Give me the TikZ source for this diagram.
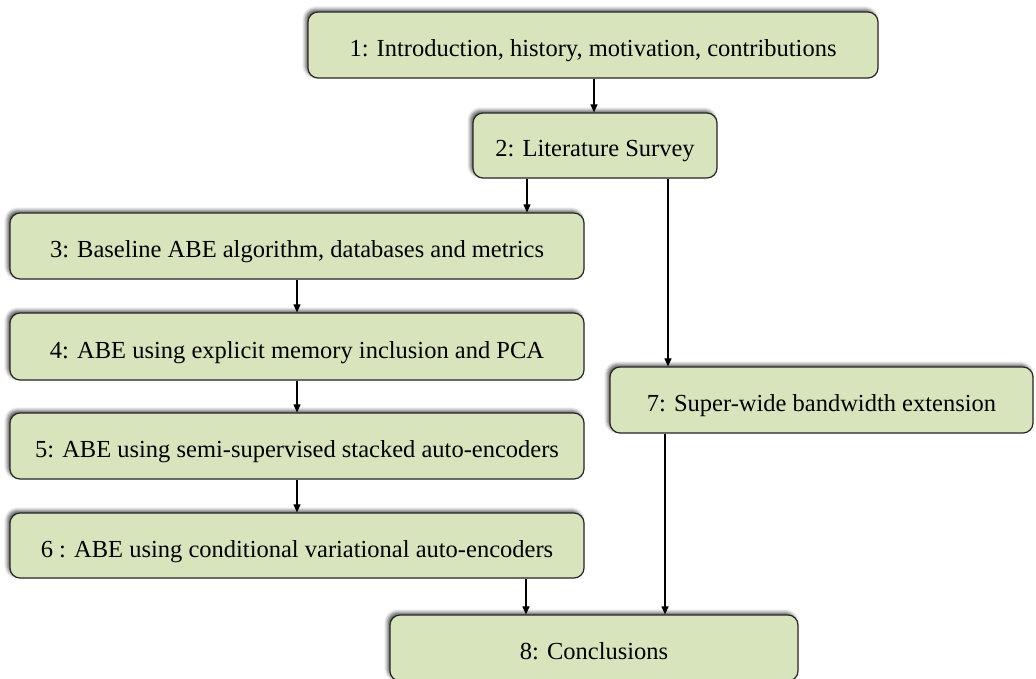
\documentclass[tikz,border=0pt]{standalone}
\usepackage{fontspec}
\setmainfont{Liberation Serif}
\usetikzlibrary{shadows.blur,arrows.meta}
\definecolor{boxfill}{HTML}{D8E4BC}
\begin{document}
\begin{tikzpicture}[x=1pt,y=-1pt,
  chapter/.style={draw=black!85, line width=1.2pt, fill=boxfill, rounded corners=10pt,
    inner sep=0pt, align=center, text height=23pt, text depth=0pt,
    font=\fontsize{24.5}{29}\selectfont,
    blur shadow={shadow xshift=-2.5pt, shadow yshift=2.5pt, shadow blur radius=3.5pt, shadow opacity=65}},
  arr/.style={line width=1.1pt, -{Triangle[length=8pt,width=7pt]}}]
\useasboundingbox (0,0) rectangle (1036,679);
\node[chapter, minimum width=570pt, minimum height=66pt] (b1) at (593,45) {1: Introduction, history, motivation, contributions};
\node[chapter, minimum width=244pt, minimum height=65pt] (b2) at (595,145.5) {2: Literature Survey};
\node[chapter, minimum width=574pt, minimum height=66pt] (b3) at (297,246) {3: Baseline ABE algorithm, databases and metrics};
\node[chapter, minimum width=574pt, minimum height=67pt] (b4) at (297,346.5) {4: ABE using explicit memory inclusion and PCA};
\node[chapter, minimum width=574pt, minimum height=66pt] (b5) at (297,446) {5: ABE using semi-supervised stacked auto-encoders};
\node[chapter, minimum width=574pt, minimum height=65pt] (b6) at (297,545.5) {6 : ABE using conditional variational auto-encoders};
\node[chapter, minimum width=423pt, minimum height=66pt] (b7) at (821.5,400) {7: Super-wide bandwidth extension};
\node[chapter, minimum width=408pt, minimum height=66pt] (b8) at (594,648) {8: Conclusions};
\draw[arr] ([xshift=1pt]b1.south) -- ([xshift=1pt]b1.south |- b2.north);
\draw[arr] ([xshift=-68pt]b2.south) -- ([xshift=-68pt]b2.south |- b3.north);
\draw[arr] ([xshift=73pt]b2.south) -- ([xshift=73pt]b2.south |- b7.north);
\draw[arr] (b3.south) -- (b4.north);
\draw[arr] (b4.south) -- (b5.north);
\draw[arr] (b5.south) -- (b6.north);
\draw[arr] ([xshift=229pt]b6.south) -- ([xshift=229pt]b6.south |- b8.north);
\draw[arr] ([xshift=-156.5pt]b7.south) -- ([xshift=-156.5pt]b7.south |- b8.north);
\end{tikzpicture}
\end{document}
